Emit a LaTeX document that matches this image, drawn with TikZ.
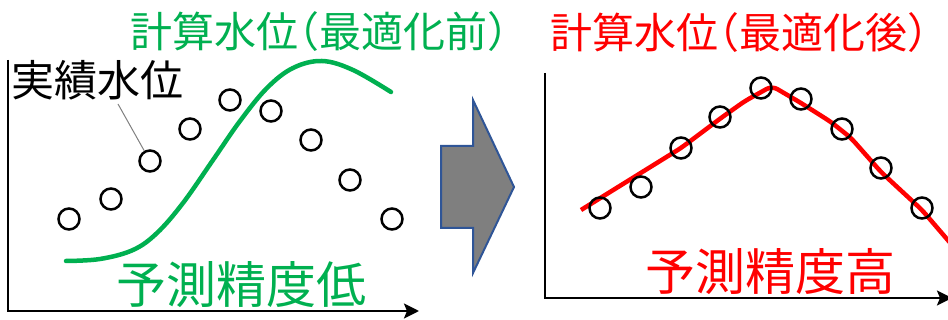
\documentclass[tikz,border=0pt]{standalone}
\usepackage{fontspec}
\newfontfamily\jp{Noto Sans CJK JP}
\usetikzlibrary{arrows.meta}
\definecolor{pgreen}{HTML}{00B050}
\definecolor{pred}{HTML}{FF0000}
\definecolor{ablue}{HTML}{2F5597}
\definecolor{agray}{HTML}{7F7F7F}
\newcommand{\lpar}{\hbox to 0.5em{\hss（}}
\newcommand{\rpar}{\hbox to 0.5em{）\hss}}
\tikzset{
  obs/.style={circle,draw=black,line width=2.5pt,minimum size=21pt,inner sep=0pt,fill=none},
  axis/.style={line width=2.5pt,-{Stealth[length=15pt,width=15pt,inset=3pt]}},
  txt/.style={inner sep=0pt,anchor=west,font=\jp},
  leader/.style={draw=gray,line width=1pt},
}
\begin{document}
\begin{tikzpicture}[x=1pt,y=-1pt]
\useasboundingbox (0,0) rectangle (948,320);
% left chart axes
\coordinate (y1) at (8,60);
\coordinate (o1) at (8,311);
\coordinate (x1) at (419,311);
\draw[axis] (y1) -- (o1) -- (x1);
% green curve
\draw[pgreen,line width=4.5pt,line cap=round] plot[smooth,tension=0.6] coordinates
 {(66,261) (100,259) (133,250) (157,233) (183,203) (213,160) (240,121) (267,88) (293,68) (322,61) (353,70) (391,92)};
% observed points left
\foreach \n/\x/\y in {a1/69/219,a2/111/199,a3/150/161,a4/190/129,a5/230/100,a6/271/111,a7/311/140,a8/350/180,a9/392/219}
  \node[obs] (\n) at (\x,\y) {};
% labels left
\node[txt,font=\jp\fontsize{43}{43}\selectfont] (lbl) at (11,80) {実績水位};
\coordinate (lead) at (118,104);
\draw[leader] (lead) -- (a3);
\node[txt,text=pgreen,font=\jp\fontsize{42}{42}\selectfont] (t1) at (130,32) {計算水位\lpar 最適化前\rpar};
\node[txt,text=pgreen,font=\jp\fontsize{50}{50}\selectfont] (acc1) at (116,285) {予測精度低};
% block arrow
\draw[fill=agray,draw=ablue,line width=2pt,line join=miter]
  (441,146) -- (473,146) -- (473,100) -- (514,187) -- (473,273) -- (473,228) -- (441,228) -- cycle;
% right chart axes
\coordinate (y2) at (545,73);
\coordinate (o2) at (545,298);
\coordinate (x2) at (952,298);
\draw[axis] (y2) -- (o2) -- (x2);
% red line
\draw[pred,line width=4.5pt,rounded corners=6pt]
  (581,210) -- (681,148) -- (721,118) -- (745,101) -- (772,86) -- (801,103) -- (831,122) -- (851,138) -- (881,172) -- (922,210) -- (952,245);
\foreach \n/\x/\y in {b1/600/208,b2/641/187,b3/681/148,b4/720/117,b5/761/88,b6/801/99,b7/842/129,b8/881/168,b9/922/208}
  \node[obs] (\n) at (\x,\y) {};
\node[txt,text=pred,font=\jp\fontsize{42}{42}\selectfont] (t2) at (550,33) {計算水位\lpar 最適化後\rpar};
\node[txt,text=pred,font=\jp\fontsize{50}{50}\selectfont] (acc2) at (645,272) {予測精度高};
\end{tikzpicture}
\end{document}
